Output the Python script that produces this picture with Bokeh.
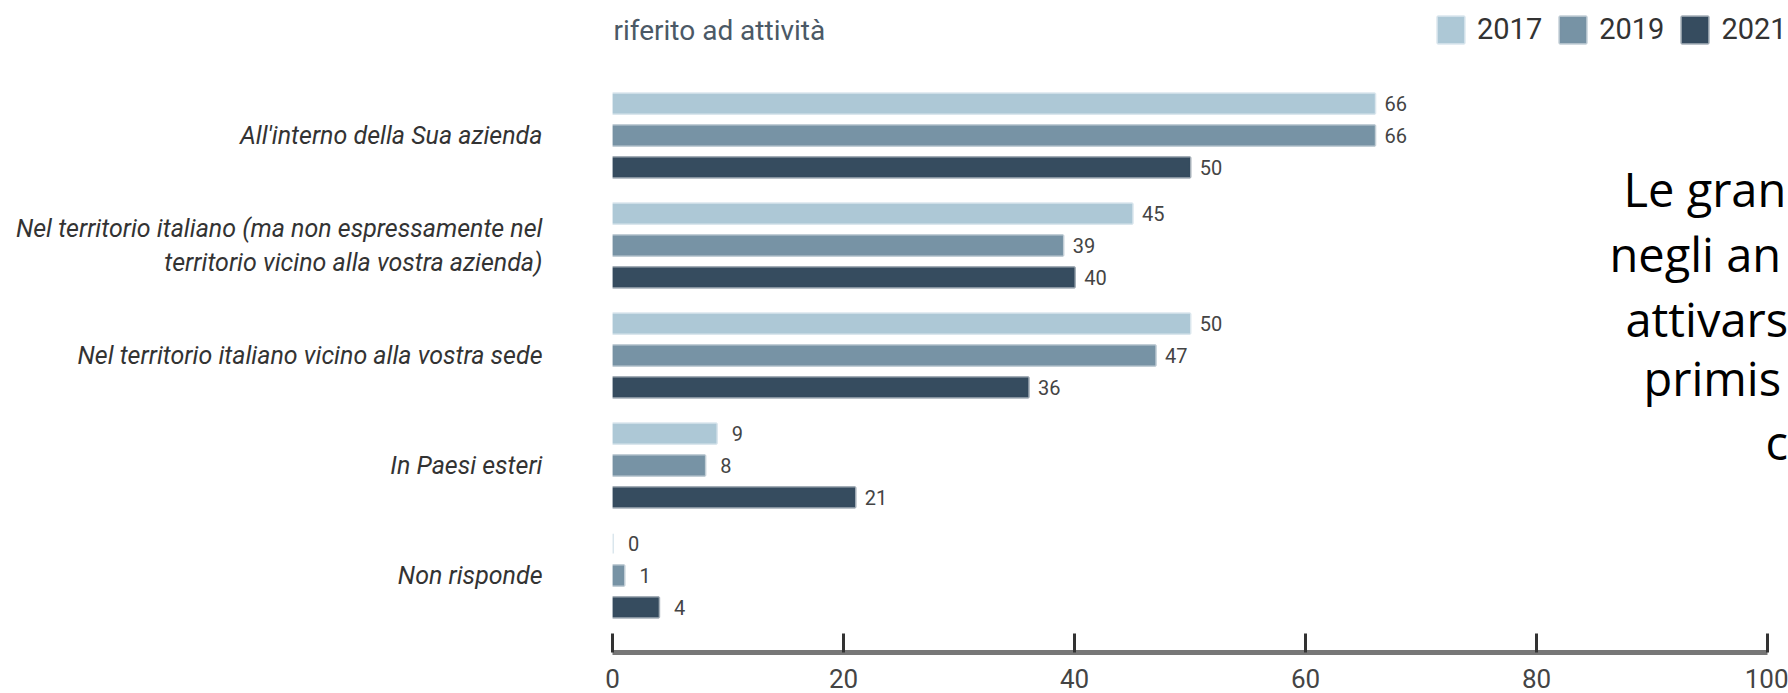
from bokeh.plotting import figure
from bokeh.models import (ColumnDataSource, Range1d, Legend, LegendItem,
                          Label, FixedTicker)
from bokeh.transform import dodge
from bokeh.core.properties import value
from bokeh.embed import file_html
from bokeh.resources import INLINE

# ---------------- data ----------------
title_text = "riferito ad attività"
categories = [
    "All'interno della Sua azienda",
    "Nel territorio italiano (ma non espressamente nel\nterritorio vicino alla vostra azienda)",
    "Nel territorio italiano vicino alla vostra sede",
    "In Paesi esteri",
    "Non risponde",
]
years = ["2017", "2019", "2021"]
values_2017 = [66, 45, 50, 9, 0]
values_2019 = [66, 39, 47, 8, 1]
values_2021 = [50, 40, 36, 21, 4]
x_ticks = [0, 20, 40, 60, 80, 100]
side_text = ["Le gran", "negli an", "attivars", "primis", "c"]

# ---------------- layout / style ----------------
W, H = 1788, 693
LEFT, BOTTOM = 612, 41          # frame left edge / bottom border (px)
PX_PER_X = 11.55                # px per x unit
GROUP_PX = 110                  # px between category groups
FIRST_GROUP_PX = 135            # canvas y of first group's centre
colors = ["#adc8d6", "#7793a5", "#364c5f"]
offsets = [0.29, 0.0, -0.29]
SIDE_FONT = 47
side_x = [1623, 1609, 1625, 1643, 1765]       # canvas px where each line starts
side_base = [207, 272, 337, 396, 460]         # canvas px of each baseline
TITLE_BASE = 41
BASE_FIX = 0.4                                # label baseline correction (em)

n = len(categories)
frame_bottom = H - BOTTOM
ypos = [float(n - 1 - i) for i in range(n)]
y_top = (n - 1) + FIRST_GROUP_PX / GROUP_PX
y_bot = (n - 1) - (frame_bottom - FIRST_GROUP_PX) / GROUP_PX
x_end = (W - LEFT) / PX_PER_X

series = {"2017": values_2017, "2019": values_2019, "2021": values_2021}
data = dict(cat=categories, ypos=ypos)
for yr in years:
    data["v" + yr] = series[yr]
    data["t" + yr] = [str(v) for v in series[yr]]
src = ColumnDataSource(data)

p = figure(width=W, height=H,
           y_range=Range1d(y_bot, y_top),
           x_range=Range1d(0, x_end),
           output_backend="svg", toolbar_location=None,
           min_border_left=LEFT, min_border_right=0,
           min_border_top=0, min_border_bottom=BOTTOM)
p.outline_line_color = None
p.xgrid.visible = False
p.ygrid.visible = False
p.background_fill_color = "white"
p.border_fill_color = "white"

items = []
for yr, col, off in zip(years, colors, offsets):
    ydod = dodge("ypos", off)
    r = p.hbar(y=ydod, left=0, right="v" + yr, height=0.18, source=src,
               fill_color=col, line_color=col, line_alpha=0.45, line_width=3)
    p.text(x="v" + yr, y=ydod, text="t" + yr, source=src, x_offset=21,
           text_baseline="middle", text_align="center",
           text_font=value("Roboto"), text_font_size="20px", text_color="#444444")
    items.append(LegendItem(label=yr, renderers=[r]))

legend = Legend(items=items, orientation="horizontal",
                location=(1434 - LEFT, frame_bottom - 46),
                glyph_width=33, glyph_height=33, label_standoff=10, spacing=14,
                padding=0, margin=0, border_line_color=None, background_fill_alpha=0,
                label_text_font="Roboto", label_text_font_size="29px",
                label_text_color="#333333")
p.add_layout(legend)

p.add_layout(Label(x=1, y=frame_bottom - TITLE_BASE + BASE_FIX * 28,
                   x_units="screen", y_units="screen",
                   text=title_text, text_font="Roboto", text_font_size="28px",
                   text_color="#4b5966", text_baseline="alphabetic"))

xa = p.xaxis[0]
xa.ticker = FixedTicker(ticks=x_ticks)
xa.bounds = (x_ticks[0], x_ticks[-1])
xa.major_tick_in = 19
xa.major_tick_out = 0
xa.minor_tick_line_color = None
xa.major_tick_line_width = 3
xa.major_tick_line_color = "#333333"
xa.axis_line_width = 5
xa.axis_line_color = "#777777"
xa.major_label_text_font = "Roboto"
xa.major_label_text_font_size = "26px"
xa.major_label_text_color = "#444444"
xa.major_label_text_line_height = 0.6
xa.major_label_standoff = 16

ya = p.yaxis[0]
ya.ticker = FixedTicker(ticks=ypos)
ya.major_label_overrides = {int(y): c for y, c in zip(ypos, categories)}
ya.axis_line_color = None
ya.major_tick_line_color = None
ya.minor_tick_line_color = None
ya.major_tick_in = 0
ya.major_tick_out = 0
ya.minor_tick_in = 0
ya.minor_tick_out = 0
ya.major_label_standoff = 70
ya.major_label_text_font = "Roboto"
ya.major_label_text_font_style = "italic"
ya.major_label_text_font_size = "25px"
ya.major_label_text_color = "#333333"

for txt, sx, base in zip(side_text, side_x, side_base):
    p.add_layout(Label(x=sx - LEFT, y=frame_bottom - base + BASE_FIX * SIDE_FONT,
                       x_units="screen", y_units="screen", text=txt,
                       text_font="Open Sans", text_font_size=f"{SIDE_FONT}px",
                       text_color="#000000", text_baseline="alphabetic"))

open("out.html", "w").write(file_html(p, INLINE))
